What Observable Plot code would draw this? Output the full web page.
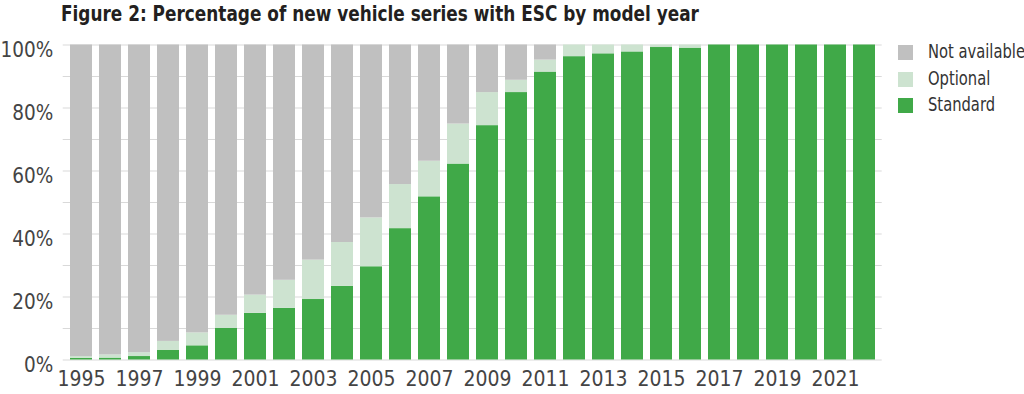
<!DOCTYPE html>
<html>
<head>
<meta charset="utf-8">
<script src="https://cdn.jsdelivr.net/npm/d3@7"></script>
<script src="https://cdn.jsdelivr.net/npm/@observablehq/plot@0.6"></script>
<style>
  html, body { margin: 0; padding: 0; background: #fff; }
  #wrap { position: relative; width: 1024px; height: 394px; overflow: hidden; font-family: "Liberation Sans Narrow", "DejaVu Sans Condensed", "Arial Narrow", sans-serif; }
  #title { position: absolute; left: 61px; top: 2px; font-size: 21px; font-weight: bold; color: #231f20; white-space: nowrap; transform: scaleX(0.895); transform-origin: 0 0; }
  #legend { position: absolute; left: 898px; top: 43px; }
  .lg { position: absolute; left: 0; height: 20px; white-space: nowrap; font-size: 19.5px; color: #333; }
  .sw { position: absolute; left: 0; top: 2px; width: 15px; height: 15px; }
  .lt { position: absolute; left: 30px; top: -3px; transform: scaleX(0.84); transform-origin: 0 0; }
  #chart { position: absolute; left: 0; top: 0; }
</style>
</head>
<body>
<div id="wrap">
  <div id="chart"></div>
  <div id="title">Figure 2: Percentage of new vehicle series with ESC by model year</div>
  <div id="legend"></div>
</div>
<script>
const years = [1995, 1996, 1997, 1998, 1999, 2000, 2001, 2002, 2003, 2004, 2005, 2006, 2007, 2008,
               2009, 2010, 2011, 2012, 2013, 2014, 2015, 2016, 2017, 2018, 2019, 2020, 2021, 2022];
const standard = [0.5, 0.6, 1.1, 3.1, 4.5, 10.0, 14.8, 16.4, 19.2, 23.4, 29.6, 41.7, 51.8, 62.2,
                  74.4, 84.9, 91.4, 96.3, 97.2, 97.8, 99.2, 99.0, 100, 100, 100, 100, 100, 100];
const optional = [0.6, 1.0, 1.2, 2.8, 4.1, 4.2, 5.8, 8.9, 12.5, 13.9, 15.5, 14.0, 11.3, 12.7,
                  10.5, 3.9, 3.8, 3.7, 2.8, 2.2, 0.8, 1.0, 0, 0, 0, 0, 0, 0];
const categories = ["Not available", "Optional", "Standard"];
const colors = ["#c0c0c0", "#cde3d0", "#40a948"];
const xTickLabels = [1995, 1997, 1999, 2001, 2003, 2005, 2007, 2009, 2011, 2013, 2015, 2017, 2019, 2021];
const yTickLabels = [0, 20, 40, 60, 80, 100];
const yGrid = [0, 10, 20, 30, 40, 50, 60, 70, 80, 90, 100];

const rows = [];
years.forEach((y, i) => {
  const na = Math.max(0, +(100 - standard[i] - optional[i]).toFixed(2));
  rows.push({year: y, cat: "Standard", value: standard[i]});
  rows.push({year: y, cat: "Optional", value: optional[i]});
  rows.push({year: y, cat: "Not available", value: na});
});

const font = '"Liberation Sans Narrow", "DejaVu Sans Condensed", "Arial Narrow", sans-serif';

const plot = Plot.plot({
  width: 1024,
  height: 394,
  marginTop: 44.5,
  marginBottom: 34.5,
  marginLeft: 62.7,
  marginRight: 142.3,
  style: {fontFamily: font, fontSize: "21px", color: "#444", background: "#fff"},
  x: {domain: years, type: "band", paddingInner: 0.25, paddingOuter: 0.14, label: null},
  y: {domain: [0, 100], label: null},
  color: {domain: categories, range: colors},
  marks: [
    Plot.ruleY(yGrid, {stroke: "#d9d9d9", strokeWidth: 1.2}),
    Plot.barY(rows, Plot.stackY({order: ["Standard", "Optional", "Not available"]}, {x: "year", y: "value", fill: "cat"})),
    Plot.axisX({ticks: xTickLabels, tickSize: 0, tickPadding: 11, tickFormat: d => String(d), fontSize: 21, fill: "#444"}),
    Plot.axisY({ticks: yTickLabels, tickSize: 0, tickPadding: 10, tickFormat: d => d + "%", fontSize: 20.5, fill: "#444", dy: 5})
  ]
});
document.getElementById("chart").appendChild(plot);

const legend = document.getElementById("legend");
const legendTops = [0, 26.7, 53.3];
categories.forEach((c, i) => {
  const row = document.createElement("div");
  row.className = "lg";
  row.style.top = legendTops[i] + "px";
  row.innerHTML = `<div class="sw" style="background:${colors[i]}"></div><div class="lt">${c}</div>`;
  legend.appendChild(row);
});
</script>
</body>
</html>
